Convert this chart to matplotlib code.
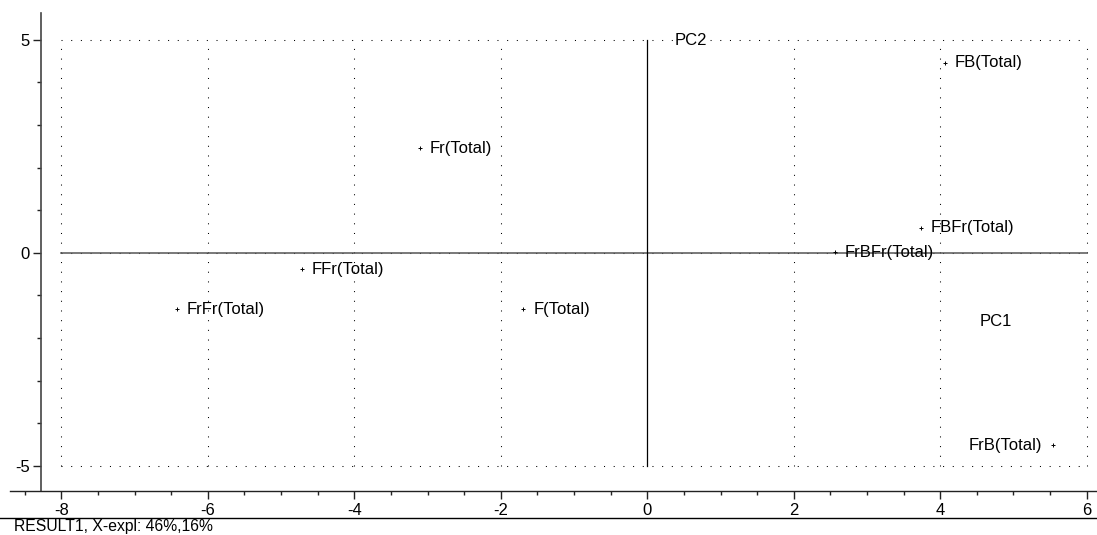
import matplotlib
matplotlib.use("Agg")
import matplotlib.pyplot as plt
import matplotlib.ticker as mticker
from matplotlib.lines import Line2D

# Scores PC1 / PC2
echantillons = ["FB(Total)", "FBFr(Total)", "FrBFr(Total)", "Fr(Total)",
                "FFr(Total)", "FrFr(Total)", "F(Total)", "FrB(Total)"]
pc1 = [4.07, 3.74, 2.56, -3.10, -4.72, -6.42, -1.69, 5.54]
pc2 = [4.46, 0.59, 0.01, 2.46, -0.38, -1.32, -1.32, -4.52]
grille_x = [-8, -6, -4, -2, 2, 4, 6]
grille_y = [5, 0, -5]
titre_bas = "RESULT1, X-expl: 46%,16%"

plt.rcParams["font.family"] = ["Liberation Sans", "DejaVu Sans"]
plt.rcParams["font.size"] = 12

W, H = 1097, 535
fig = plt.figure(figsize=(W / 100, H / 100), dpi=100, facecolor="w")
ax = fig.add_axes([10 / W, (H - 491) / H, (W - 10) / W, (491 - 13) / H])

ax.set_xlim(-8.70, 6.14)
ax.set_ylim(-5.59, 5.63)

# grille pointillée limitée au cadre [-8, 6] x [-5, 5]
pointille = (0, (1, 8.3))
ax.vlines(grille_x, -5, 5, colors="k", linewidth=0.75, linestyles=[pointille])
ax.hlines(grille_y, -8, 6, colors="k", linewidth=0.75, linestyles=[pointille])

# axes des composantes
ax.plot([-8, 6], [0, 0], color="#555555", linewidth=1.1)
ax.plot([0, 0], [-5, 5], color="k", linewidth=0.9)

ax.plot(pc1, pc2, linestyle="none", marker="+", markersize=3.5,
        markeredgewidth=0.7, color="k")
for nom, x, y in zip(echantillons, pc1, pc2):
    if nom == "FrB(Total)":
        ax.annotate(nom, (x, y), xytext=(-8, 0), textcoords="offset points",
                    ha="right", va="center")
    else:
        ax.annotate(nom, (x, y), xytext=(7, 0), textcoords="offset points",
                    ha="left", va="center")

ax.text(0.38, 4.98, "PC2", ha="left", va="center",
        bbox=dict(facecolor="w", edgecolor="none", pad=0.5))
ax.text(4.54, -1.62, "PC1", ha="left", va="center")

# cadre : seulement les axes gauche et bas
ax.spines["top"].set_visible(False)
ax.spines["right"].set_visible(False)
ax.spines["left"].set_position(("data", -8.27))
ax.spines["left"].set_color("#444444")
ax.spines["bottom"].set_color("#222222")
ax.spines["left"].set_linewidth(1.2)
ax.spines["bottom"].set_linewidth(1.0)

ax.xaxis.set_major_locator(mticker.FixedLocator([-8, -6, -4, -2, 0, 2, 4, 6]))
ax.xaxis.set_minor_locator(mticker.MultipleLocator(0.5))
ax.yaxis.set_major_locator(mticker.FixedLocator([-5, 0, 5]))
ax.yaxis.set_minor_locator(mticker.MultipleLocator(1))
ax.tick_params(which="major", length=6, width=1, color="#222222", pad=2.5)
ax.tick_params(which="minor", length=3, width=1, color="#222222")
ax.xaxis.set_major_formatter(mticker.FuncFormatter(lambda v, p: "%d" % v))
ax.yaxis.set_major_formatter(mticker.FuncFormatter(lambda v, p: "%d" % v))

# ligne de séparation et légende du bas
fig.add_artist(Line2D([0, 1], [1 - 518 / H, 1 - 518 / H], color="k",
                      linewidth=1.0, transform=fig.transFigure))
fig.text(14 / W, 1 - 527 / H, titre_bas, ha="left", va="center", fontsize=11.3)

fig.savefig("out.png", dpi=100)
plt.close()
